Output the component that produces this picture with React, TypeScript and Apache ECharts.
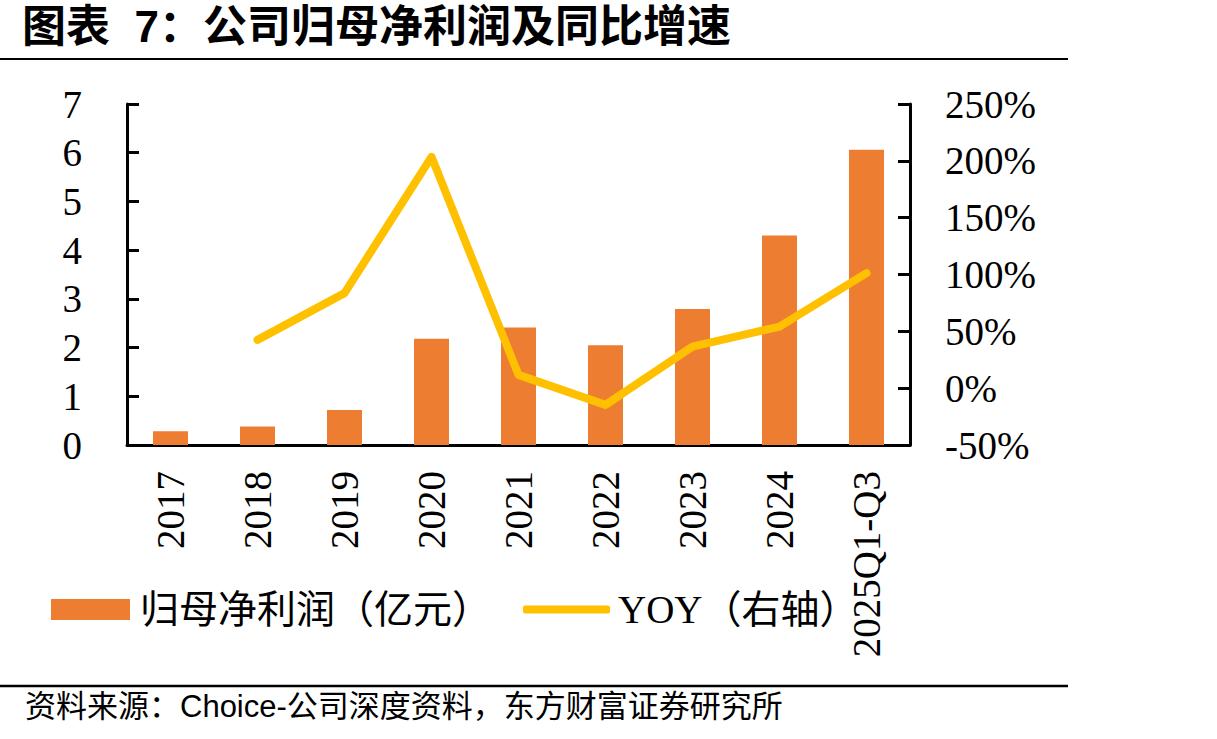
import React, { useEffect, useRef } from "react";
import * as echarts from "echarts";

const categories = ["2017", "2018", "2019", "2020", "2021", "2022", "2023", "2024", "2025Q1-Q3"];
const profit = [0.28, 0.38, 0.72, 2.18, 2.41, 2.05, 2.79, 4.3, 6.06];
const yoy = [null, 42.5, 83.6, 203.5, 11.7, -14.7, 36.6, 54.2, 101.2];
const leftTicks = { min: 0, max: 7, interval: 1 };
const rightTicks = { min: -50, max: 250, interval: 50 };
const titleText = "图表  7：公司归母净利润及同比增速";
const sourceText = "资料来源：Choice-公司深度资料，东方财富证券研究所";
const barName = "归母净利润（亿元）";
const lineName = "YOY（右轴）";

const SERIF = "'Liberation Serif', 'Noto Sans CJK SC', serif";
const SANS = "'Liberation Sans', 'Noto Sans CJK SC', sans-serif";

export default function App() {
  const ref = useRef<HTMLDivElement>(null);
  useEffect(() => {
    if (!ref.current) return;
    const chart = echarts.init(ref.current, null, { renderer: "svg" });
    chart.setOption({
      animation: false,
      backgroundColor: "#ffffff",
      grid: { left: 127, right: 307, top: 104, bottom: 294, containLabel: false },
      xAxis: {
        type: "category",
        data: categories,
        axisLine: { show: true, lineStyle: { color: "#000", width: 3 } },
        axisTick: { show: false },
        axisLabel: {
          rotate: 90,
          margin: 26,
          interval: 0,
          fontFamily: SERIF,
          fontSize: 39,
          color: "#000",
        },
      },
      yAxis: [
        {
          type: "value",
          ...leftTicks,
          position: "left",
          splitLine: { show: false },
          axisLine: { show: true, lineStyle: { color: "#000", width: 3 } },
          axisTick: { show: true, inside: true, length: 12, lineStyle: { color: "#000", width: 3 } },
          axisLabel: { margin: 45, fontFamily: SERIF, fontSize: 39, color: "#000" },
        },
        {
          type: "value",
          ...rightTicks,
          position: "right",
          splitLine: { show: false },
          axisLine: { show: true, lineStyle: { color: "#000", width: 3 } },
          axisTick: { show: true, inside: true, length: 12, lineStyle: { color: "#000", width: 3 } },
          axisLabel: {
            margin: 35,
            fontFamily: SERIF,
            fontSize: 39,
            color: "#000",
            formatter: "{value}%",
          },
        },
      ],
      legend: [
        {
          data: [barName],
          left: 51,
          top: 590,
          padding: 0,
          itemWidth: 79,
          itemHeight: 21,
          icon: "rect",
          textStyle: { fontFamily: SERIF, fontSize: 39, color: "#000", padding: [0, 0, 0, 5] },
        },
        {
          data: [{ name: lineName, icon: "roundRect" }],
          left: 523,
          top: 590,
          padding: 0,
          itemWidth: 87,
          itemHeight: 8,
          textStyle: { fontFamily: SERIF, fontSize: 39, color: "#000", padding: [0, 0, 0, 3] },
        },
      ],
      series: [
        {
          name: barName,
          type: "bar",
          data: profit,
          yAxisIndex: 0,
          barWidth: 35,
          itemStyle: { color: "#ED7D31" },
        },
        {
          name: lineName,
          type: "line",
          data: yoy,
          yAxisIndex: 1,
          symbol: "none",
          connectNulls: false,
          itemStyle: { color: "#FFC000" },
          lineStyle: { color: "#FFC000", width: 8, cap: "round", join: "round" },
        },
      ],
      graphic: [
        {
          type: "text",
          left: 22,
          top: 4,
          style: {
            text: titleText,
            font: `bold 44px ${SANS}`,
            fill: "#000",
          },
        },
        {
          type: "line",
          shape: { x1: 0, y1: 59, x2: 1068, y2: 59 },
          style: { stroke: "#000", lineWidth: 2 },
        },
        {
          type: "line",
          shape: { x1: 0, y1: 686, x2: 1068, y2: 686 },
          style: { stroke: "#000", lineWidth: 2.5 },
        },
        {
          type: "text",
          left: 25,
          top: 691,
          style: {
            text: sourceText,
            font: `31px ${SANS}`,
            fill: "#000",
          },
        },
      ],
    });
    return () => chart.dispose();
  }, []);
  return (
    <div
      ref={ref}
      style={{ position: "fixed", left: 0, top: 0, width: 1217, height: 739, background: "#fff" }}
    />
  );
}
